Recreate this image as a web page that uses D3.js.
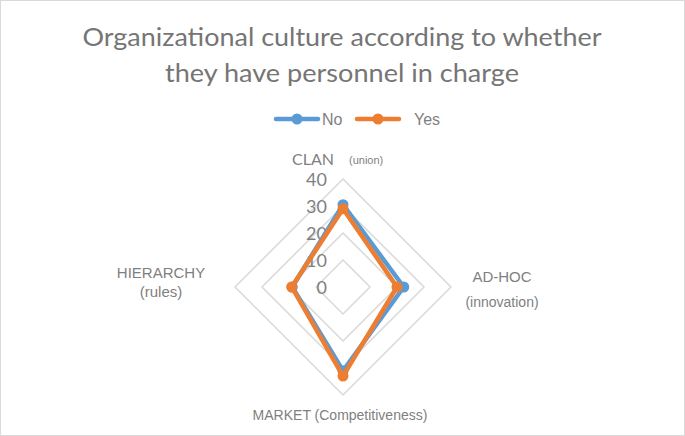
<!DOCTYPE html>
<html lang="en">
<head>
<meta charset="UTF-8">
<title>Organizational culture radar</title>
<script src="https://d3js.org/d3.v7.min.js"></script>
<style>
  html, body { margin: 0; padding: 0; background: #fff; }
  svg { display: block; }
</style>
</head>
<body>
<svg id="chart" width="685" height="436"></svg>
<script>
// data
const axesNames = ["CLAN", "AD-HOC", "MARKET", "HIERARCHY"];
const noValues = [30.5, 22.5, 31, 18.8];
const yesValues = [29, 20, 33, 19];
const seriesNames = ["No", "Yes"];
const ticks = [0, 10, 20, 30, 40];

const colors = { No: "#5b9bd5", Yes: "#ed7d31" };
const textGray = "#7f7f7f";

const svg = d3.select("#chart");
const W = 685, H = 436;
const cx = 343, cy = 287, R = 108;

// outer frame
svg.append("rect")
  .attr("x", 0.5).attr("y", 0.5)
  .attr("width", W - 1).attr("height", H - 1)
  .attr("fill", "#fff").attr("stroke", "#d9d9d9");

// title
const title = svg.append("text")
  .attr("text-anchor", "middle")
  .attr("fill", "#757575")
  .style("font-family", "Lato, 'Open Sans', sans-serif")
  .style("font-size", "25px");
title.append("tspan").attr("x", 342).attr("y", 46)
  .attr("textLength", 519).attr("lengthAdjust", "spacingAndGlyphs")
  .text("Organizational culture according to whether");
title.append("tspan").attr("x", 342).attr("y", 82)
  .attr("textLength", 354).attr("lengthAdjust", "spacingAndGlyphs")
  .text("they have personnel in charge");

// legend
const legend = [
  { name: "No", x0: 276, tx: 322 },
  { name: "Yes", x0: 357, tx: 414 }
];
const lg = svg.append("g");
legend.forEach(l => {
  lg.append("line")
    .attr("x1", l.x0).attr("x2", l.x0 + 42)
    .attr("y1", 119).attr("y2", 119)
    .attr("stroke", colors[l.name]).attr("stroke-width", 4.5)
    .attr("stroke-linecap", "round");
  lg.append("circle")
    .attr("cx", l.x0 + 21).attr("cy", 119).attr("r", 5.5)
    .attr("fill", colors[l.name]);
  lg.append("text")
    .attr("x", l.tx).attr("y", 125)
    .attr("fill", textGray)
    .style("font-family", "'Liberation Sans', Arial, sans-serif")
    .style("font-size", "16px")
    .text(l.name);
});

// radial scale and angles
const r = d3.scaleLinear().domain([0, 40]).range([0, R]);
const angle = d3.scalePoint().domain(axesNames).range([0, 2 * Math.PI * 3 / 4]);
const pt = (name, v) => {
  const a = angle(name);
  return [cx + r(v) * Math.sin(a), cy - r(v) * Math.cos(a)];
};

// grid diamonds
const grid = svg.append("g");
ticks.filter(t => t > 0).forEach(t => {
  grid.append("path")
    .attr("d", d3.line()(axesNames.map(n => pt(n, t))) + "Z")
    .attr("fill", "none")
    .attr("stroke", "#d9d9d9")
    .attr("stroke-width", 1.5);
});

// tick labels
svg.append("g").selectAll("text")
  .data(ticks)
  .join("text")
  .attr("x", 327)
  .attr("y", d => cy - r(d) + 7)
  .attr("text-anchor", "end")
  .attr("fill", textGray)
  .style("font-family", "Lato, 'Open Sans', sans-serif")
  .style("font-size", "18px")
  .text(d => d);

// series
const series = [
  { name: "No", values: noValues },
  { name: "Yes", values: yesValues }
];
series.forEach(s => {
  const pts = axesNames.map((n, i) => pt(n, s.values[i]));
  const g = svg.append("g");
  g.append("path")
    .attr("d", d3.line()(pts) + "Z")
    .attr("fill", "none")
    .attr("stroke", colors[s.name])
    .attr("stroke-width", 4.5)
    .attr("stroke-linejoin", "round");
  g.selectAll("circle")
    .data(pts)
    .join("circle")
    .attr("cx", d => d[0]).attr("cy", d => d[1])
    .attr("r", 5.5)
    .attr("fill", colors[s.name]);
});

// axis labels
const lab = svg.append("g")
  .attr("fill", textGray)
  .style("font-family", "'Liberation Sans', Arial, sans-serif");
lab.append("text").attr("x", 292).attr("y", 165)
  .style("font-family", "Lato, 'Open Sans', sans-serif")
  .style("font-size", "16px").text("CLAN");
lab.append("text").attr("x", 349).attr("y", 164)
  .style("font-size", "11px").text("(union)");
lab.append("text").attr("x", 502).attr("y", 282).attr("text-anchor", "middle")
  .style("font-size", "15px").text("AD-HOC");
lab.append("text").attr("x", 502).attr("y", 307).attr("text-anchor", "middle")
  .style("font-size", "14px").text("(innovation)");
lab.append("text").attr("x", 161).attr("y", 278).attr("text-anchor", "middle")
  .style("font-size", "15px").text("HIERARCHY");
lab.append("text").attr("x", 161).attr("y", 297).attr("text-anchor", "middle")
  .style("font-size", "15px").text("(rules)");
lab.append("text").attr("x", 340).attr("y", 420).attr("text-anchor", "middle")
  .style("font-size", "14px").text("MARKET (Competitiveness)");
</script>
</body>
</html>
